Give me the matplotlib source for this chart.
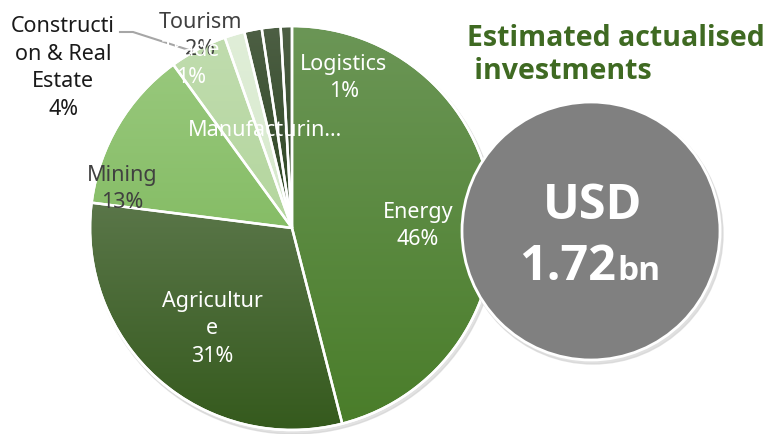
import numpy as np
import matplotlib.pyplot as plt
from matplotlib.colors import LinearSegmentedColormap
from matplotlib.patches import Circle

# sector shares, clockwise from 12 o'clock
sectors = ["Energy", "Agriculture", "Mining", "Construction & Real Estate",
           "Tourism", "Trade", "Manufacturing", "Logistics"]
shares = [46, 31, 13, 4.6, 1.6, 1.4, 1.5, 0.9]
# label text as printed on the chart
label_text = ["Energy\n46%", "Agricultur\ne\n31%", "Mining\n13%",
              "Constructi\non & Real\nEstate\n4%", "Tourism\n2%", "Trade\n1%",
              "Manufacturin...", "Logistics\n1%"]
total_text = "USD"
total_value = "1.72"
total_unit = "bn"
title = "Estimated actualised\n investments"

# gradient (top, bottom) per slice
grad = [("#6b9656", "#4a7d2a"), ("#5a7649", "#355a1d"), ("#98c87c", "#86bd66"),
        ("#c0dcae", "#b4d69e"), ("#e0eed8", "#d6e9cb"), ("#4d5f44", "#2b4420"),
        ("#4d5f44", "#2b4420"), ("#4d5f44", "#2b4420")]
label_pos = [(418, 226), (212, 329), (122, 189), (63, 68), (200, 36),
             (191, 64), (265, 130), (344, 78)]
label_col = ["white", "white", "#404040", "#1a1a1a", "#404040",
             "white", "white", "white"]

W, H = 776, 435
cx, cy, r = 292, H - 229, 202

plt.rcParams['font.family'] = ['Noto Sans', 'DejaVu Sans']
bold_font = ['Open Sans', 'DejaVu Sans']

fig = plt.figure(figsize=(W / 100, H / 100), dpi=100)
ax = fig.add_axes([0, 0, 1, 1])

# soft shadow under the pie
ax.add_patch(Circle((cx + 2, cy - 3), r + 1, color="#cfcfcf", alpha=0.6, zorder=1))

wedges, _ = ax.pie(shares, center=(cx, cy), radius=r, startangle=90,
                   counterclock=False, frame=True,
                   wedgeprops=dict(edgecolor="white", linewidth=1.8))

ramp = np.linspace(0, 1, 256).reshape(-1, 1)
for w, (top, bot) in zip(wedges, grad):
    ext = w.get_path().get_extents()
    cmap = LinearSegmentedColormap.from_list("g", [top, bot])
    im = ax.imshow(ramp, cmap=cmap, extent=(ext.x0, ext.x1, ext.y0, ext.y1),
                   aspect="auto", zorder=2, interpolation="bilinear")
    im.set_clip_path(w)
    w.set_facecolor("none")
    w.set_zorder(3)

ax.add_patch(Circle((cx, cy), r, fill=False, edgecolor="white", lw=1.8, zorder=3))

for txt, (x, y), col in zip(label_text, label_pos, label_col):
    ax.text(x, H - y, txt, color=col, fontsize=15.5, ha="center", va="center",
            linespacing=1.4, zorder=5)

# leader line for Construction & Real Estate
ax.plot([120, 133, 192], [H - 33, H - 33, H - 52], color="#a6a6a6", lw=1.5, zorder=4)

# total bubble
ax.add_patch(Circle((593, H - 235), 130, color="#d4d4d4", alpha=0.7, zorder=5))
ax.add_patch(Circle((591, H - 232), 129, facecolor="#808080", edgecolor="white",
                    lw=2, zorder=6))
ax.text(593, H - 207, total_text, color="white", fontsize=35, fontweight="bold",
        family=bold_font, ha="center", va="center", zorder=7)
ax.text(616, H - 280, total_value, color="white", fontsize=35, fontweight="bold",
        family=bold_font, ha="right", va="baseline", zorder=7)
ax.text(617, H - 280, total_unit, color="white", fontsize=24, fontweight="bold",
        family=bold_font, ha="left", va="baseline", zorder=7)

ax.text(467, H - 55, title, color="#3f6a22", fontsize=20.5, fontweight="bold",
        family=bold_font, ha="left", va="center", linespacing=1.15, zorder=7)

ax.set_xlim(0, W)
ax.set_ylim(0, H)
ax.set_aspect("equal")
ax.axis("off")

fig.savefig("out.png", dpi=100)
